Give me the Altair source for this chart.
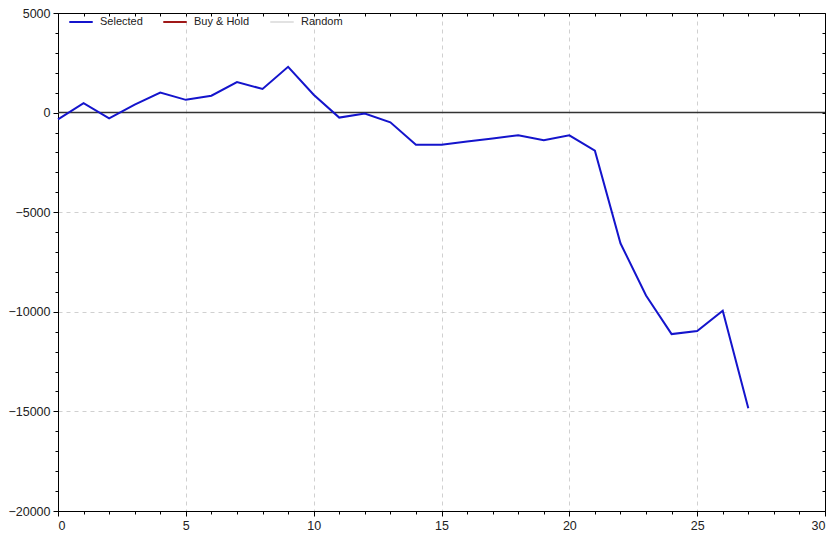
import altair as alt
import pandas as pd

# ---- data ----
periods = list(range(0, 28))
selected = [-340, 470, -290, 400, 1010, 640, 850, 1530, 1190, 2300,
            900, -250, -50, -490, -1610, -1610, -1450, -1300, -1140, -1390,
            -1140, -1910, -6560, -9180, -11120, -10960, -9950, -14840]
series_names = ["Selected", "Buy & Hold", "Random"]
series_colors = ["#1414cc", "#a01818", "#e2e2e2"]
zero_level = [0]
x_ticks = list(range(0, 31))
y_ticks = list(range(-20000, 5001, 1000))

df = pd.DataFrame({"period": periods, "value": selected, "series": "Selected"})
zero_df = pd.DataFrame({"level": zero_level})

font = "Liberation Sans"
xscale = alt.Scale(domain=[0, 30], nice=False, zero=False)
yscale = alt.Scale(domain=[-20000, 5000], nice=False, zero=False)

grid_dash = [4, 4]

x_axis = alt.Axis(
    values=x_ticks, title=None, orient="bottom",
    labelExpr="datum.value % 5 === 0 ? datum.label : ''",
    labelOverlap=False, labelFont=font, labelFontSize=12.5, labelColor="#222",
    labelPadding=3, tickColor="#000", domainColor="#000",
    tickSize={"expr": "datum.value % 5 === 0 ? 5 : 3"},
    grid=True, gridDash=grid_dash, gridColor="#d0d0d0",
    gridOpacity={"expr": "datum.value % 5 === 0 && datum.value > 0 && datum.value < 30 ? 1 : 0"},
)
y_axis = alt.Axis(
    values=y_ticks, title=None, orient="left", format="d",
    labelExpr="datum.value % 5000 === 0 ? datum.label : ''",
    labelOverlap=False, labelFont=font, labelFontSize=12.5, labelColor="#222",
    labelPadding=3, tickColor="#000", domainColor="#000",
    tickSize={"expr": "datum.value % 5000 === 0 ? 5 : 3"},
    grid=True, gridDash=grid_dash, gridColor="#d0d0d0",
    gridOpacity={"expr": "datum.value % 5000 === 0 && datum.value !== 0 && datum.value > -20000 && datum.value < 5000 ? 1 : 0"},
)

zero_rule = alt.Chart(zero_df).mark_rule(color="#333", strokeWidth=1.5).encode(
    y=alt.Y("level:Q", scale=yscale, axis=None)
)

line = alt.Chart(df).mark_line(strokeWidth=2).encode(
    x=alt.X("period:Q", scale=xscale, axis=x_axis),
    y=alt.Y("value:Q", scale=yscale, axis=y_axis),
    color=alt.Color(
        "series:N",
        scale=alt.Scale(domain=series_names, range=series_colors),
        legend=alt.Legend(
            title=None, orient="none", legendX=10, legendY=-4,
            direction="horizontal", symbolType="stroke", symbolStrokeWidth=2,
            symbolSize=550, labelFont=font, labelFontSize=11, labelColor="#222",
            columnPadding=16, labelOffset=6,
        ),
    ),
)

frame = alt.Chart(df).mark_point(opacity=0).encode(
    x=alt.X("period:Q", scale=xscale,
            axis=alt.Axis(orient="top", values=x_ticks, labels=False, title=None,
                          domain=False, tickSize=3, offset=-3, tickColor="#000", grid=False)),
    y=alt.Y("value:Q", scale=yscale,
            axis=alt.Axis(orient="right", values=y_ticks, labels=False, title=None,
                          domain=False, tickSize=3, offset=-3, tickColor="#000", grid=False)),
)

chart = (
    alt.layer(zero_rule, line, frame)
    .resolve_axis(x="independent", y="independent")
    .properties(
        width=767, height=498,
        autosize=alt.AutoSizeParams(type="none"),
        padding={"left": 50, "top": 5, "right": 6, "bottom": 22},
        background="white",
    )
    .configure_view(stroke="#000", strokeWidth=1)
)

chart.save("out.html", embed_options={"renderer": "svg", "actions": False})
